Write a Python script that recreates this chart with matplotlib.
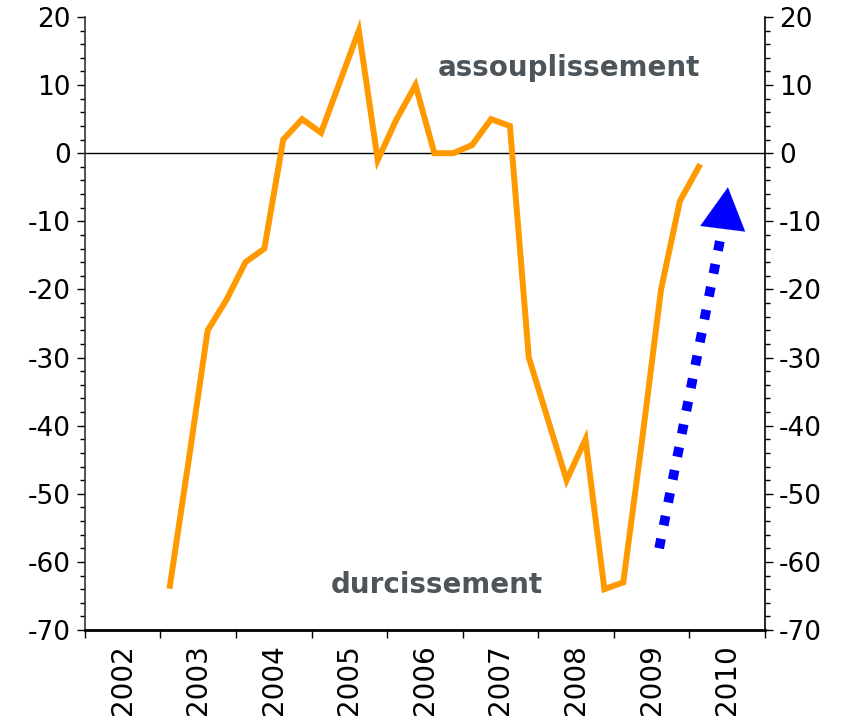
import matplotlib
matplotlib.use("Agg")
import matplotlib.pyplot as plt
import numpy as np
from matplotlib.ticker import MultipleLocator, FixedLocator, NullFormatter, FixedFormatter

plt.rcParams['font.family'] = ['DejaVu Sans']
plt.rcParams['axes.unicode_minus'] = False

# Quarterly data: 2003Q1 .. 2010Q1
years = [2003]*4 + [2004]*4 + [2005]*4 + [2006]*4 + [2007]*4 + [2008]*4 + [2009]*4 + [2010]
quarters = [1, 2, 3, 4]*7 + [1]
values = [-63.5, -45, -26, -21.5,
          -16, -14, 2, 5,
          3, 10.5, 18, -1,
          5, 10, 0, 0,
          1.2, 5, 4, -30,
          -39, -48, -42, -64,
          -63, -42, -20, -7,
          -2]
year_labels = ['2002', '2003', '2004', '2005', '2006', '2007', '2008', '2009', '2010']
label_up = 'assouplissement'
label_down = 'durcissement'

x = np.array(years) + (np.array(quarters) - 0.5) / 4.0

fig = plt.figure(figsize=(8.49, 7.22), dpi=100)
ax = fig.add_axes([0.1, 0.1274, 0.801, 0.8491])

ax.plot(x, values, color='#FF9900', lw=4.3, solid_joinstyle='miter', zorder=3)
ax.axhline(0, color='black', lw=1.0, zorder=2)

ax.set_xlim(2002, 2011)
ax.set_ylim(-70, 20)

# y axis both sides
ax.yaxis.set_major_locator(MultipleLocator(10))
ax.yaxis.set_minor_locator(MultipleLocator(2))
ax.tick_params(axis='y', which='both', left=True, right=True, labelleft=True, labelright=True,
               direction='out', labelsize=19, pad=4)
ax.tick_params(axis='y', which='major', length=6, width=1)
ax.tick_params(axis='y', which='minor', length=3.5, width=1)

# x axis: major ticks at year boundaries, labels centered
ax.xaxis.set_major_locator(FixedLocator(range(2002, 2012)))
ax.xaxis.set_major_formatter(NullFormatter())
ax.xaxis.set_minor_locator(FixedLocator([int(y) + 0.5 for y in year_labels]))
ax.xaxis.set_minor_formatter(FixedFormatter(year_labels))
ax.tick_params(axis='x', which='major', direction='out', length=6, width=1)
ax.tick_params(axis='x', which='minor', length=0, labelsize=20, labelrotation=90, pad=10)

ax.spines['top'].set_visible(False)
ax.spines['bottom'].set_linewidth(2)
ax.spines['left'].set_linewidth(1.2)
ax.spines['right'].set_linewidth(1.2)
ax.spines['left'].set_color('#333333')

ax.text(2008.41, 12.5, label_up, ha='center', va='center', fontsize=20, fontweight='bold', color='#4d555b')
ax.text(2006.66, -63.4, label_down, ha='center', va='center', fontsize=20, fontweight='bold', color='#4d555b')

# dotted blue arrow
arrow_start = (2009.60, -58.0)
arrow_base = (2010.45, -10.3)
arrow_tip = (2010.51, -5.0)
ax.plot([arrow_start[0], arrow_base[0]], [arrow_start[1], arrow_base[1]], color='#0000FF',
        lw=7, ls=(0, (1, 1.4)), dash_capstyle='butt', zorder=4)
ax.annotate('', xy=arrow_tip, xytext=arrow_base,
            arrowprops=dict(arrowstyle='-|>,head_length=1.2,head_width=0.65', color='#0000FF',
                            lw=0.1, mutation_scale=25, shrinkA=0, shrinkB=0), zorder=4)

fig.savefig('out.png', dpi=100)
